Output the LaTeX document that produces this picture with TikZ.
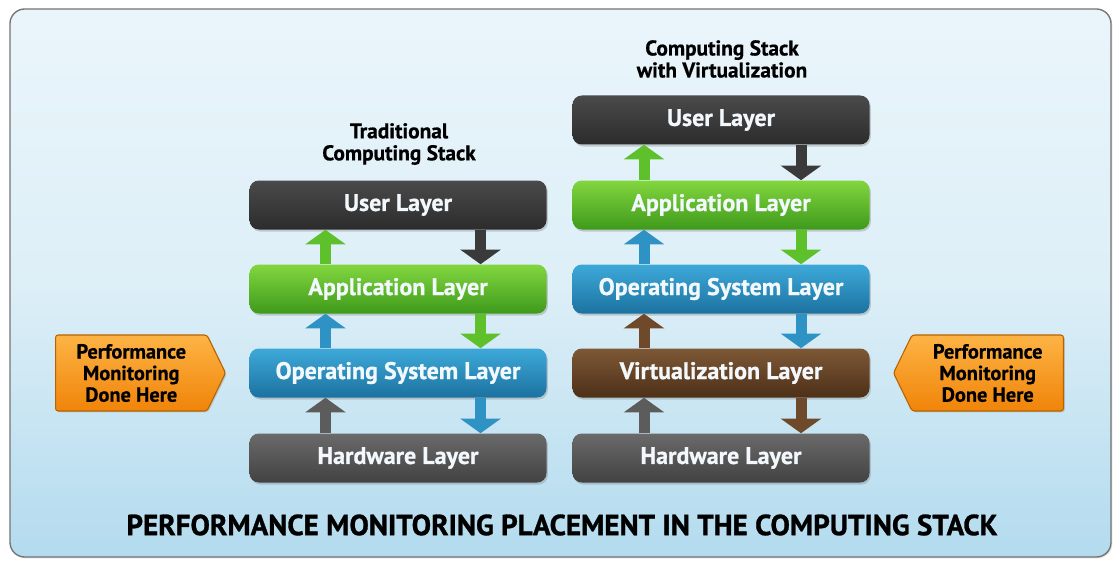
\documentclass[tikz,border=0pt]{standalone}
\usepackage{fontspec}
\setmainfont{PT Sans}
\usetikzlibrary{shapes.symbols,shadows,arrows.meta}
\definecolor{userTop}{HTML}{4A4A4A}
\definecolor{userBot}{HTML}{2C2C2C}
\definecolor{appTop}{HTML}{82D63E}
\definecolor{appBot}{HTML}{3E9A1B}
\definecolor{osTop}{HTML}{3DA9D9}
\definecolor{osBot}{HTML}{1C72A0}
\definecolor{virtTop}{HTML}{7D5836}
\definecolor{virtBot}{HTML}{4C3018}
\definecolor{hwTop}{HTML}{6A6A6A}
\definecolor{hwBot}{HTML}{424242}
\definecolor{userArr}{HTML}{3A3A3A}
\definecolor{appArr}{HTML}{5EC12C}
\definecolor{osArr}{HTML}{2E92C5}
\definecolor{virtArr}{HTML}{6E4A2A}
\definecolor{hwArr}{HTML}{5C5C5C}
\definecolor{monTop}{HTML}{FDB445}
\definecolor{monBot}{HTML}{F08409}
\definecolor{monEdge}{HTML}{B86200}
\definecolor{panelTop}{HTML}{EAF5FB}
\definecolor{panelMid}{HTML}{DDEFF7}
\definecolor{panelBot}{HTML}{B3DBEE}
\definecolor{labelText}{HTML}{F2F8FB}
\begin{document}
\begin{tikzpicture}[x=0.75pt,y=-0.75pt]
            \tikzstyle{layer}=[rounded corners=7pt, minimum width=222.75pt, minimum height=36.75pt, inner sep=0pt, text=labelText, font=\bfseries\fontsize{18}{20}\selectfont\addfontfeature{FakeBold=0.8}, drop shadow={opacity=0.35, shadow xshift=1pt, shadow yshift=-1.5pt}]
            \tikzstyle{user}=[layer, top color=userTop, bottom color=userBot]
            \tikzstyle{app}=[layer, top color=appTop, bottom color=appBot]
            \tikzstyle{os}=[layer, top color=osTop, bottom color=osBot]
            \tikzstyle{virt}=[layer, top color=virtTop, bottom color=virtBot]
            \tikzstyle{hw}=[layer, top color=hwTop, bottom color=hwBot]
            \tikzstyle{stacktitle}=[align=center, font=\bfseries\fontsize{16}{16.5}\selectfont\addfontfeature{FakeBold=0.6}, text=black]
            \tikzstyle{monitor}=[shape=signal, signal pointer angle=128, draw=monEdge, line width=0.8pt, top color=monTop, bottom color=monBot, rounded corners=2pt, minimum width=127.5pt, minimum height=57pt, inner sep=1pt, align=center, font=\bfseries\fontsize{15.3}{16.2}\selectfont\addfontfeature{FakeBold=0.6}, drop shadow={opacity=0.3, shadow xshift=1pt, shadow yshift=-1pt}]
            \tikzstyle{flow}=[line width=8.25pt, -{Triangle[length=11pt,width=30pt]}]
            \useasboundingbox (0,0) rectangle (1119,563);
            \draw[rounded corners=11pt, draw=black!55, line width=1pt, top color=panelTop, bottom color=panelBot, middle color=panelMid, drop shadow={opacity=0.25, shadow xshift=1pt, shadow yshift=-1pt}] (10,9) rectangle (1111,557);
            \node[stacktitle] (tL) at (399,144) {Traditional\\Computing Stack};
            \node[stacktitle] (tR) at (722,59) {Computing Stack\\with Virtualization};
            \node[user] (uL) at (398,205) {User Layer};
            \node[app] (aL) at (398,289) {Application Layer};
            \node[os] (oL) at (398,373) {Operating System Layer};
            \node[hw] (hL) at (398,458) {Hardware Layer};
            \node[user] (uR) at (721,120) {User Layer};
            \node[app] (aR) at (721,205) {Application Layer};
            \node[os] (oR) at (721,289) {Operating System Layer};
            \node[virt] (vR) at (721,373) {Virtualization Layer};
            \node[hw] (hR) at (721,458) {Hardware Layer};
            \node[monitor, signal to=east, anchor=west] (mL) at (55,373) {Performance\\Monitoring\\Done Here};
            \node[monitor, signal to=west, anchor=east] (mR) at (1064,373) {Performance\\Monitoring\\Done Here};
            \node[font=\bfseries\fontsize{21.8}{24}\selectfont\addfontfeature{FakeBold=1}] (cap) at (562,525) {PERFORMANCE MONITORING PLACEMENT IN THE COMPUTING STACK};
            \draw[flow, appArr] ([xshift=-54.4pt]aL.north) -- ([xshift=-54.4pt]uL.south);
            \draw[flow, userArr] ([xshift=61.9pt]uL.south) -- ([xshift=61.9pt]aL.north);
            \draw[flow, osArr] ([xshift=-54.4pt]oL.north) -- ([xshift=-54.4pt]aL.south);
            \draw[flow, appArr] ([xshift=61.9pt]aL.south) -- ([xshift=61.9pt]oL.north);
            \draw[flow, hwArr] ([xshift=-54.4pt]hL.north) -- ([xshift=-54.4pt]oL.south);
            \draw[flow, osArr] ([xshift=61.9pt]oL.south) -- ([xshift=61.9pt]hL.north);
            \draw[flow, appArr] ([xshift=-57.75pt]aR.north) -- ([xshift=-57.75pt]uR.south);
            \draw[flow, userArr] ([xshift=60pt]uR.south) -- ([xshift=60pt]aR.north);
            \draw[flow, osArr] ([xshift=-57.75pt]oR.north) -- ([xshift=-57.75pt]aR.south);
            \draw[flow, appArr] ([xshift=60pt]aR.south) -- ([xshift=60pt]oR.north);
            \draw[flow, virtArr] ([xshift=-57.75pt]vR.north) -- ([xshift=-57.75pt]oR.south);
            \draw[flow, osArr] ([xshift=60pt]oR.south) -- ([xshift=60pt]vR.north);
            \draw[flow, hwArr] ([xshift=-57.75pt]hR.north) -- ([xshift=-57.75pt]vR.south);
            \draw[flow, virtArr] ([xshift=60pt]vR.south) -- ([xshift=60pt]hR.north);
\end{tikzpicture}
\end{document}
